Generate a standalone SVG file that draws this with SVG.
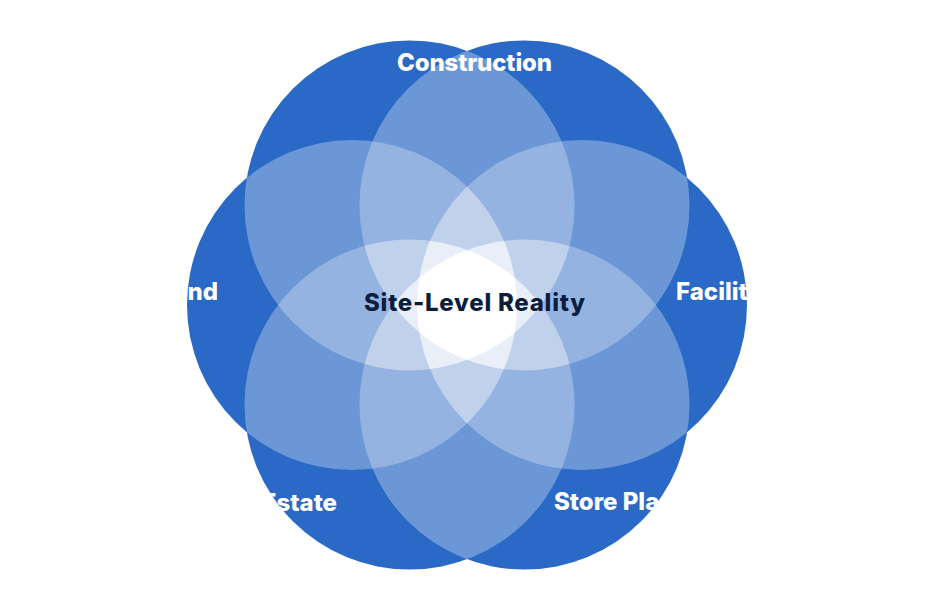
<svg xmlns="http://www.w3.org/2000/svg" width="942" height="601" viewBox="0 0 942 601">
  <defs>
    <filter id="levels" filterUnits="userSpaceOnUse" x="0" y="0" width="942" height="601" color-interpolation-filters="sRGB">
      <feComponentTransfer>
        <feFuncR type="table" tableValues="0.1647 0.1647 0.4157 0.5804 0.7451 0.9059 1 1"/>
        <feFuncG type="table" tableValues="0.4118 0.4118 0.5922 0.6980 0.8157 0.9333 1 1"/>
        <feFuncB type="table" tableValues="0.7765 0.7765 0.8431 0.8824 0.9255 0.9765 1 1"/>
      </feComponentTransfer>
    </filter>
    <style>
      .petal { fill: #252525; mix-blend-mode: plus-lighter; }
      .lbl { font-family: Inter, "Liberation Sans", sans-serif; font-weight: 800; font-size: 24px; fill: #ffffff; }
      .core { font-family: Inter, "Liberation Sans", sans-serif; font-weight: 800; font-size: 24px; fill: #0c1e3c; }
    </style>
  </defs>
  <rect width="942" height="601" fill="#ffffff"/>
  <g id="petals" filter="url(#levels)" style="isolation:isolate">
    <circle id="petal-top-left" class="petal" cx="409.5" cy="205.4" r="165"/>
    <circle id="petal-top-right" class="petal" cx="524.5" cy="205.4" r="165"/>
    <circle id="petal-right" class="petal" cx="582" cy="305" r="165"/>
    <circle id="petal-bottom-right" class="petal" cx="524.5" cy="404.6" r="165"/>
    <circle id="petal-bottom-left" class="petal" cx="409.5" cy="404.6" r="165"/>
    <circle id="petal-left" class="petal" cx="352" cy="305" r="165"/>
  </g>
  <g id="labels">
    <g id="node-construction"><text class="lbl" x="397" y="71" textLength="155" lengthAdjust="spacing">Construction</text></g>
    <g id="node-brand"><text class="lbl" x="218" y="300" text-anchor="end">nd</text></g>
    <g id="node-facilities"><text class="lbl" x="676" y="300">Facilit</text></g>
    <g id="node-real-estate"><text class="lbl" x="337" y="511" text-anchor="end">Estate</text></g>
    <g id="node-store-planning"><text class="lbl" x="554" y="510">Store Pla</text></g>
    <g id="node-core"><text class="core" x="364" y="311" textLength="221" lengthAdjust="spacing">Site-Level Reality</text></g>
  </g>
</svg>
